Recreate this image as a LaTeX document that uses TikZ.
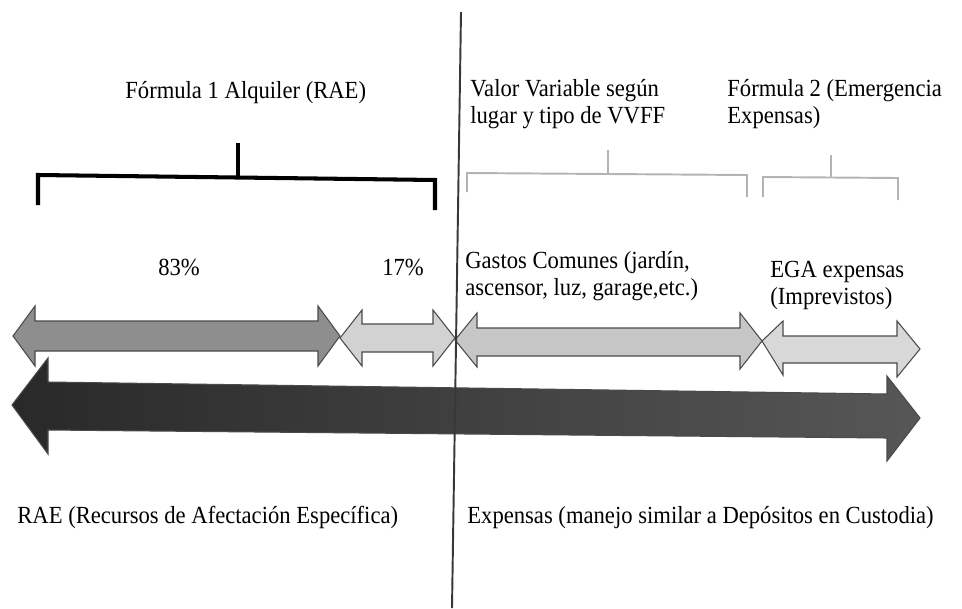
\documentclass[tikz,border=0pt]{standalone}
\usepackage{xcolor}
\usepackage{fontspec}
\setmainfont{Liberation Serif}[FakeStretch=0.92]
\usepackage{tikz}
\usetikzlibrary{positioning,calc}

\definecolor{midgr}{HTML}{8E8E8E}
\definecolor{ligr}{HTML}{D2D2D2}
\definecolor{ligrB}{HTML}{C6C6C6}
\definecolor{ligrC}{HTML}{D8D8D8}
\definecolor{edgegr}{HTML}{4A4A4A}
\definecolor{brackgr}{HTML}{B4B4B4}

\begin{document}
\begin{tikzpicture}[x=0.02cm, y=-0.02cm, font=\fontsize{14}{15.5}\selectfont]
	\tikzstyle{lbl}=[inner sep=0, align=left, text=black]
	\tikzstyle{blackbrace}=[line width=2.3pt, black]
	\tikzstyle{graybrace}=[line width=1.1pt, brackgr]
	\tikzstyle{every arrowshape}=[draw=edgegr, line width=0.6pt, line join=miter]
	\useasboundingbox (0,0) rectangle (962,608);
	
	% upper row of double arrows
	\path[every arrowshape, fill=midgr]
	(13,336) -- (35,306) -- (35,321) -- (318,321) -- (318,306) -- (340,336)
	-- (318,366) -- (318,351) -- (35,351) -- (35,366) -- cycle;
	\path[every arrowshape, fill=ligr]
	(340,338) -- (362,310) -- (362,324) -- (433,324) -- (433,310) -- (455,338)
	-- (433,366) -- (433,352) -- (362,352) -- (362,366) -- cycle;
	\path[every arrowshape, fill=ligrB]
	(455,340) -- (477,313) -- (477,328) -- (740,328) -- (740,313) -- (762,341)
	-- (740,369) -- (740,356) -- (477,356) -- (477,367) -- cycle;
	\path[every arrowshape, fill=ligrC]
	(762,341) -- (783,321) -- (783,336) -- (897,336) -- (897,321) -- (920,349)
	-- (897,377) -- (897,363) -- (783,363) -- (783,375) -- cycle;
	
	% long arrow
	\path[every arrowshape, left color=black!84, right color=black!66]
	(12,405) -- (48,358) -- (48,382) -- (887,394) -- (887,376) -- (920,418)
	-- (887,461) -- (887,438) -- (48,430) -- (48,454) -- cycle;
	
	% braces
	\coordinate (bA1) at (38,205);
	\coordinate (bA2) at (435,210);
	\coordinate (tA) at (238,143);
	\draw[blackbrace] (bA1) -- (38,175) -- (435,180) -- (bA2);
	\draw[blackbrace] (tA) -- (238,177);
	
	\coordinate (bB1) at (467,192);
	\coordinate (bB2) at (747,197);
	\coordinate (tB) at (608,150);
	\draw[graybrace] (bB1) -- (467,173) -- (747,175) -- (bB2);
	\draw[graybrace] (tB) -- (608,174);
	
	\coordinate (bC1) at (763,197);
	\coordinate (bC2) at (898,200);
	\coordinate (tC) at (831,155);
	\draw[graybrace] (bC1) -- (763,177) -- (898,178) -- (bC2);
	\draw[graybrace] (tC) -- (831,177);
	
	% dividing line
	\coordinate (top) at (461,12);
	\coordinate (bot) at (452,608);
	\draw[line width=1.1pt, black!78] (top) -- (bot);
	
	% labels
	\node[lbl, anchor=base west] (formA) at (125,98) {Fórmula 1 Alquiler (RAE)};
	\node[lbl, anchor=north west] (valor) at (470,79) {Valor Variable según\\lugar y tipo de VVFF};
	\node[lbl, anchor=north west] (formB) at (727,79) {Fórmula 2 (Emergencia\\Expensas)};
	
	\node[lbl, anchor=base] (pA) at (179,275) {83\%};
	\node[lbl, anchor=base] (pB) at (403,275) {17\%};
	\node[lbl, anchor=north west] (gastos) at (465,251) {Gastos Comunes (jardín,\\ascensor, luz, garage,etc.)};
	\node[lbl, anchor=north west] (ega) at (770,261) {EGA expensas\\(Imprevistos)};
	
	\node[lbl, anchor=base west] (rae) at (17,523) {RAE (Recursos de Afectación Específica)};
	\node[lbl, anchor=base west] (exp) at (467,523) {Expensas (manejo similar a Depósitos en Custodia)};
\end{tikzpicture}
\end{document}
